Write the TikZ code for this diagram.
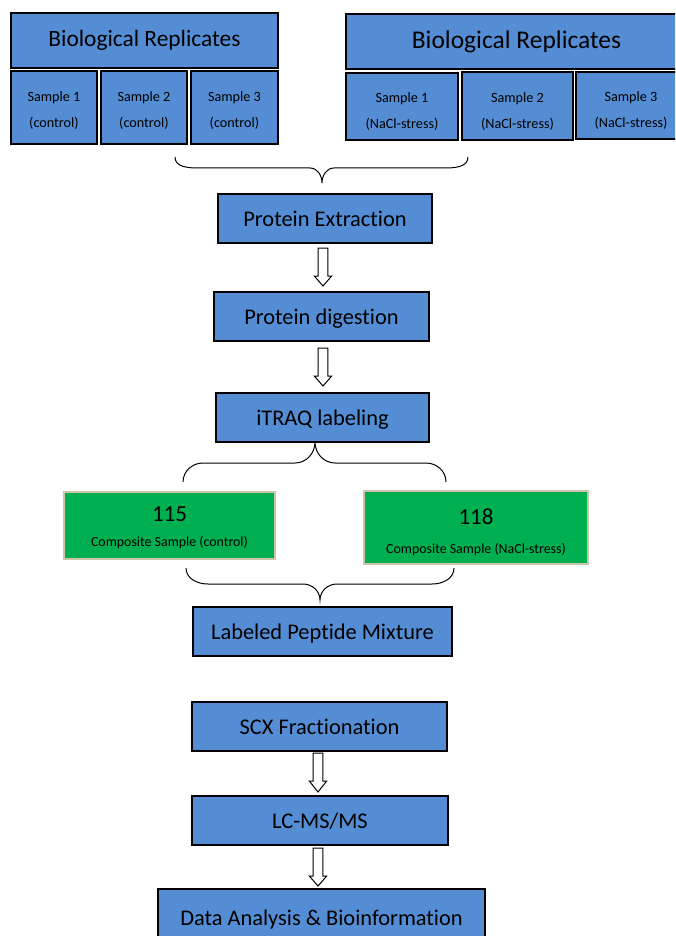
\documentclass[tikz,border=0pt]{standalone}
\usepackage{fontspec}
\setmainfont{Carlito}[Ligatures=NoCommon]
\usetikzlibrary{calc}
\definecolor{boxblue}{RGB}{84,141,212}
\definecolor{boxgreen}{RGB}{0,176,80}
\definecolor{tanborder}{RGB}{205,196,170}
\begin{document}
\begin{tikzpicture}[x=1pt,y=1pt,
  box/.style={draw=black, line width=1.4pt, fill=boxblue, rectangle, inner sep=0pt, align=center, text=black},
  big/.style={font=\fontsize{22.4}{26}\selectfont, text height=17pt, text depth=1pt},
  small/.style={font=\fontsize{14.2}{26}\selectfont, align=center, inner sep=0pt},
  gbox/.style={draw=tanborder, line width=1.6pt, fill=boxgreen, rectangle, inner sep=0pt},
  gnum/.style={font=\fontsize{23}{24}\selectfont, inner sep=0pt},
  gtxt/.style={font=\fontsize{13.9}{16}\selectfont, inner sep=0pt},
  brace/.style={draw=black, line width=1pt},
  pics/downarrow/.style={code={
    \draw[line width=1pt, fill=white, line join=miter]
      (-4.8,0) -- (-4.8,-28) -- (-8.7,-28) -- (0,-#1) -- (8.7,-28) -- (4.8,-28) -- (4.8,0) -- cycle;}},
  pics/downarrow/.default=38
]
\clip (0,0) rectangle (675,-936);
% top left
\node[box, minimum width=267pt, minimum height=55pt, font=\fontsize{23.4}{26}\selectfont] (bl) at (144.5,-40.5) {Biological Replicates};
\node[box, minimum width=86pt, minimum height=73pt] (s1l) at (54,-107.5) {};
\node[box, minimum width=86pt, minimum height=73pt] (s2l) at (144,-107.5) {};
\node[box, minimum width=87pt, minimum height=73pt] (s3l) at (234.5,-107.5) {};
\node[small] (s1lt) at (54,-110.5) {Sample 1\\(control)};
\node[small] (s2lt) at (144,-110.5) {Sample 2\\(control)};
\node[small] (s3lt) at (234.5,-110.5) {Sample 3\\(control)};
% top right
\node[box, minimum width=341pt, minimum height=55pt, font=\fontsize{25.5}{28}\selectfont] (br) at (516.5,-41.5) {Biological Replicates};
\node[box, minimum width=112pt, minimum height=67pt] (s1r) at (402,-106.5) {};
\node[box, minimum width=111pt, minimum height=68pt] (s2r) at (517.5,-106) {};
\node[box, minimum width=110pt, minimum height=67pt] (s3r) at (631,-105.5) {};
\node[small] (s1rt) at (402,-112) {Sample 1\\(NaCl-stress)};
\node[small] (s2rt) at (517.5,-111.5) {Sample 2\\(NaCl-stress)};
\node[small] (s3rt) at (631,-111) {Sample 3\\(NaCl-stress)};
% brace 1 (tip down)
\coordinate (b1l) at (175,-157);
\coordinate (b1r) at (468,-157);
\coordinate (b1t) at (322,-183);
\draw[brace] (b1l) to[out=-90,in=180] ($(b1l)+(24,-11)$) -- ($(b1t)+(-12,15)$) to[out=0,in=90] (b1t)
  to[out=90,in=180] ($(b1t)+(12,15)$) -- ($(b1r)+(-24,-11)$) to[out=0,in=-90] (b1r);
% main flow
\node[box, big, minimum width=214pt, minimum height=49pt] (pe) at (325,-218.5) {Protein Extraction};
\pic (a1) at (323,-248) {downarrow};
\node[box, big, minimum width=215pt, minimum height=49pt] (pd) at (321.5,-316.5) {Protein digestion};
\pic (a2) at (323,-348) {downarrow};
\node[box, big, minimum width=213pt, minimum height=49pt] (it) at (322.5,-417.5) {iTRAQ labeling};
% brace 2 (tip up)
\coordinate (b2l) at (183,-482);
\coordinate (b2r) at (446,-482);
\coordinate (b2t) at (315,-442);
\draw[brace] (b2l) to[out=90,in=180] ($(b2l)+(20,19)$) -- ($(b2t)+(-20,-21)$) to[out=0,in=-90] (b2t)
  to[out=-90,in=180] ($(b2t)+(20,-21)$) -- ($(b2r)+(-20,19)$) to[out=0,in=90] (b2r);
% green boxes
\node[gbox, minimum width=211pt, minimum height=67pt] (g1) at (169.5,-525.5) {};
\node[gnum] (g1n) at (169.5,-514) {115};
\node[gtxt] (g1t) at (169.5,-543) {Composite Sample (control)};
\node[gbox, minimum width=224pt, minimum height=73pt] (g2) at (476,-527.5) {};
\node[gnum] (g2n) at (476,-517) {118};
\node[gtxt] (g2t) at (476,-550) {Composite Sample (NaCl-stress)};
% brace 3 (tip down)
\coordinate (b3l) at (186,-568);
\coordinate (b3r) at (454,-568);
\coordinate (b3t) at (320,-600);
\draw[brace] (b3l) to[out=-90,in=180] ($(b3l)+(22,-16)$) -- ($(b3t)+(-17,16)$) to[out=0,in=90] (b3t)
  to[out=90,in=180] ($(b3t)+(17,16)$) -- ($(b3r)+(-22,-16)$) to[out=0,in=-90] (b3r);
\node[box, big, minimum width=259pt, minimum height=49pt] (lpm) at (322.5,-631.5) {Labeled Peptide Mixture};
\node[box, big, minimum width=255pt, minimum height=49pt] (scx) at (319.5,-726.5) {SCX Fractionation};
\pic (a3) at (318,-753) {downarrow=39};
\node[box, big, minimum width=256pt, minimum height=49pt] (lc) at (320,-820.5) {LC-MS/MS};
\pic (a4) at (318,-848) {downarrow};
\node[box, big, minimum width=327pt, minimum height=56pt] (da) at (321.5,-917) {Data Analysis \& Bioinformation};
\end{tikzpicture}
\end{document}
